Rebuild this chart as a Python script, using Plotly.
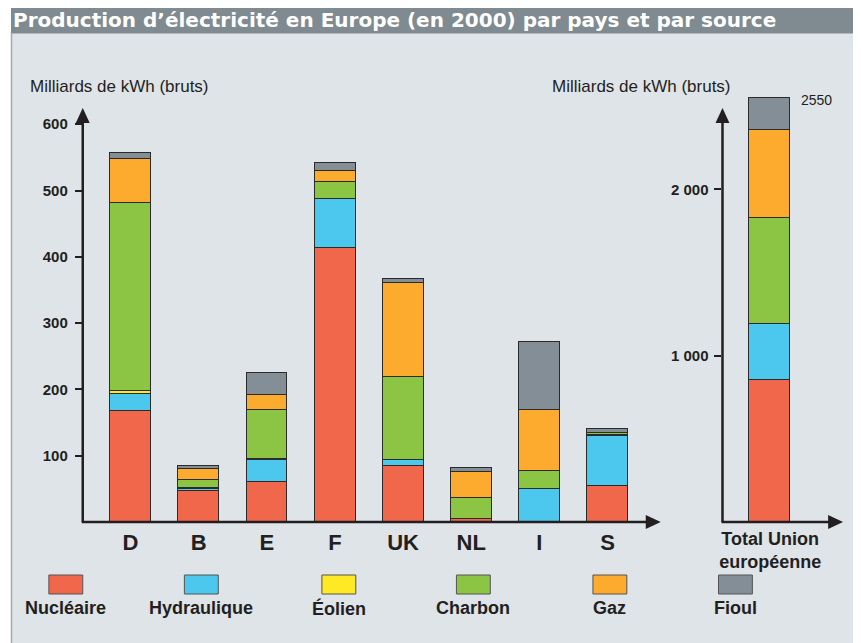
import plotly.graph_objects as go

# the page body keeps an 8px margin, so the figure sits at (8, 8)
OFF = 8
W, H = 861 - OFF, 643 - OFF

def px(x):
    return (x - OFF) / W

def py(y):
    return 1 - (y - OFF) / H

# data (milliards de kWh)
pays = ["D", "B", "E", "F", "UK", "NL", "I", "S"]
nucleaire   = [168, 47, 61, 414, 85, 4, 0, 54]
hydraulique = [25, 3, 32, 73, 8, 0, 50, 76]
eolien      = [5, 1, 2, 0, 1, 1, 0, 1]
charbon     = [283, 13, 74, 26, 125, 31, 27, 3]
gaz         = [67, 16, 23, 17, 142, 40, 92, 1]
fioul       = [9, 5, 33, 12, 6, 5, 102, 5]

total_label = "Total Union<br>européenne"
total_ue = [855, 333, 0, 642, 524, 196]

sources = ["Nucléaire", "Hydraulique", "Éolien", "Charbon", "Gaz", "Fioul"]
couleurs = ["#f1674b", "#4cc8ef", "#ffe924", "#8cc443", "#fcab2f", "#848e96"]
series = [nucleaire, hydraulique, eolien, charbon, gaz, fioul]

BG = "#dfe4e8"
INK = "#231f20"
FONT = "Liberation Sans, Arial, sans-serif"

fig = go.Figure()
for name, col, vals, tot in zip(sources, couleurs, series, total_ue):
    fig.add_trace(go.Bar(x=pays, y=vals, name=name, marker_color=col,
                         marker_line=dict(color="#2b2b2b", width=1.2),
                         width=0.6, xaxis="x", yaxis="y", showlegend=False))
    fig.add_trace(go.Bar(x=[total_label], y=[tot], name=name, marker_color=col,
                         marker_line=dict(color="#2b2b2b", width=1.2),
                         width=0.6, xaxis="x2", yaxis="y2", showlegend=False))

# pixel geometry (screen pixels)
y0 = 522
top = 90
k_left = 0.663      # px per unit
k_right = 0.16634

fig.update_layout(
    width=W, height=H, autosize=False,
    margin=dict(l=0, r=0, t=0, b=0),
    paper_bgcolor="white", plot_bgcolor="rgba(0,0,0,0)",
    barmode="stack", bargap=0,
    font=dict(family=FONT, color=INK),
    xaxis=dict(domain=[px(80), px(660)], range=[-0.70, 7.78], anchor="y",
               showgrid=False, zeroline=False, showline=False, ticks="",
               ticklabelstandoff=5,
               tickfont=dict(size=22, weight="bold", color=INK)),
    yaxis=dict(domain=[py(y0), py(top)], range=[0, (y0 - top) / k_left], anchor="x",
               showgrid=False, zeroline=False, showline=False,
               tickvals=[100, 200, 300, 400, 500, 600],
               ticks="outside", ticklen=7, tickwidth=1.5, tickcolor=INK,
               ticklabelstandoff=4,
               tickfont=dict(size=15, weight="bold", color=INK)),
    xaxis2=dict(domain=[px(722), px(843)], range=[-0.70, 1.07], anchor="y2",
                showgrid=False, zeroline=False, showline=False, ticks="",
                ticklabelstandoff=4,
                tickfont=dict(size=18, weight="bold", color=INK)),
    yaxis2=dict(domain=[py(y0), py(top)], range=[0, (y0 - top) / k_right], anchor="x2",
                showgrid=False, zeroline=False, showline=False,
                tickvals=[1000, 2000], ticktext=["1 000", "2 000"],
                ticks="outside", ticklen=7, tickwidth=1.5, tickcolor=INK,
                ticklabelstandoff=3,
                tickfont=dict(size=15, weight="bold", color=INK)),
)

shapes = []
# panel + title band
shapes.append(dict(type="rect", xref="paper", yref="paper", x0=px(8.5), x1=px(858),
                   y0=py(645), y1=py(33), fillcolor=BG, line=dict(color="#a3abb1", width=1.5),
                   layer="below"))
shapes.append(dict(type="rect", xref="paper", yref="paper", x0=px(8), x1=px(858),
                   y0=py(33), y1=py(8), fillcolor="#7f8a91", line=dict(width=0), layer="below"))

# axes with arrows
def axes(xl, xr, ytop):
    out = []
    out.append(dict(type="line", xref="paper", yref="paper", x0=px(xl), x1=px(xl),
                    y0=py(y0), y1=py(ytop + 10), line=dict(color=INK, width=2.5)))
    out.append(dict(type="line", xref="paper", yref="paper", x0=px(xl - 1), x1=px(xr - 10),
                    y0=py(y0), y1=py(y0), line=dict(color=INK, width=2.5)))
    out.append(dict(type="path", xref="paper", yref="paper",
                    path=f"M {px(xl-7)},{py(ytop+15)} L {px(xl)},{py(ytop)} L {px(xl+7)},{py(ytop+15)} Z",
                    fillcolor=INK, line=dict(width=0)))
    out.append(dict(type="path", xref="paper", yref="paper",
                    path=f"M {px(xr-15)},{py(y0-7)} L {px(xr)},{py(y0)} L {px(xr-15)},{py(y0+7)} Z",
                    fillcolor=INK, line=dict(width=0)))
    return out

shapes += axes(80, 660, 108)
shapes += axes(722, 843, 108)

# legend swatches
leg_x = [63, 199, 337, 472, 609, 735]
for sx, col in zip(leg_x, couleurs):
    shapes.append(dict(type="rect", xref="paper", yref="paper", x0=px(sx - 17), x1=px(sx + 17),
                       y0=py(594), y1=py(575), fillcolor=col, line=dict(color="#555", width=1)))

annotations = [
    dict(text="Production d’électricité en Europe (en 2000) par pays et par source",
         x=px(8), y=py(20), xanchor="left", yanchor="middle", showarrow=False,
         xref="paper", yref="paper",
         font=dict(size=20, color="white", weight="bold", family="DejaVu Sans, sans-serif")),
    dict(text="Milliards de kWh (bruts)", x=px(25), y=py(86), xanchor="left", yanchor="middle",
         xref="paper", yref="paper", showarrow=False, font=dict(size=17, color=INK)),
    dict(text="Milliards de kWh (bruts)", x=px(733), y=py(86), xanchor="right", yanchor="middle",
         xref="paper", yref="paper", showarrow=False, font=dict(size=17, color=INK)),
    dict(text=str(sum(total_ue)), x=0.3, xref="x2", y=sum(total_ue), yref="y2",
         xanchor="left", yanchor="middle", xshift=8, yshift=-2, showarrow=False,
         font=dict(size=14, color=INK)),
]
for sx, name in zip(leg_x, sources):
    annotations.append(dict(text=name, x=px(sx), y=py(608), xanchor="center", yanchor="middle",
                            xref="paper", yref="paper", showarrow=False,
                            font=dict(size=18, weight="bold", color=INK)))

fig.update_layout(shapes=shapes, annotations=annotations)
fig.write_html("out.html")
